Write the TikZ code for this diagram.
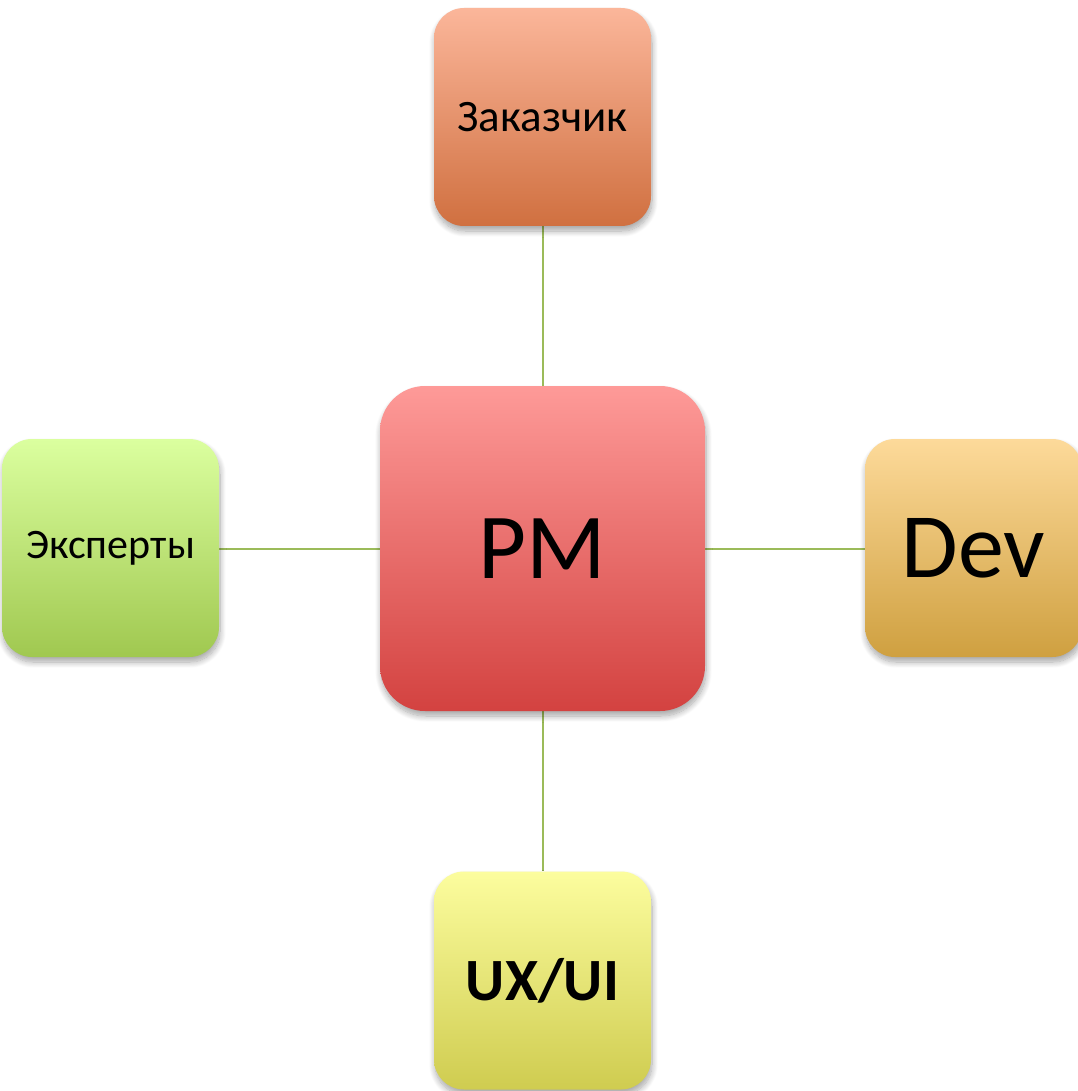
\documentclass[tikz,border=0pt]{standalone}
\usepackage{fontspec}
\setmainfont{Carlito}
\usetikzlibrary{shadows.blur,backgrounds}
\definecolor{zakT}{HTML}{FBB69A}\definecolor{zakB}{HTML}{D07040}
\definecolor{pmT}{HTML}{FE9A98}\definecolor{pmB}{HTML}{D34240}
\definecolor{expT}{HTML}{DBFF9F}\definecolor{expB}{HTML}{A0C850}
\definecolor{devT}{HTML}{FDDA9A}\definecolor{devB}{HTML}{CFA040}
\definecolor{uxT}{HTML}{FCFD9E}\definecolor{uxB}{HTML}{CFCC50}
\definecolor{linkc}{HTML}{9BBB59}
\tikzset{
  box/.style={rectangle, rounded corners=30pt, minimum width=217pt, minimum height=218pt,
    inner sep=0pt, blur shadow={shadow xshift=1pt, shadow yshift=-5pt, shadow blur radius=6pt, shadow blur steps=10, shadow opacity=35}},
  link/.style={draw=linkc, line width=2pt}
}
\begin{document}
\begin{tikzpicture}[x=1pt,y=1pt]
\useasboundingbox (0,0) rectangle (1077,-1091);
\node[box, minimum width=325pt, minimum height=325pt, rounded corners=45pt,
  top color=pmT, bottom color=pmB] (pm) at (542.5,-548.5) {\fontsize{93}{100}\selectfont PM};
\node[box, top color=zakT, bottom color=zakB] (zak) at (542.5,-117) {\fontsize{45}{50}\selectfont Заказчик};
\node[box, top color=expT, bottom color=expB] (exp) at (110.5,-548) {\fontsize{42}{48}\selectfont Эксперты};
\node[box, top color=devT, bottom color=devB] (dev) at (973.5,-548) {\fontsize{92}{100}\selectfont Dev};
\node[box, top color=uxT, bottom color=uxB] (ux) at (542.5,-980.5) {\fontsize{60}{66}\selectfont\bfseries UX/UI};
\begin{scope}[on background layer]
\draw[link] (pm.north) -- (zak.south);
\draw[link] (pm.south) -- (ux.north);
\draw[link] (pm.west) -- (pm.west -| exp.east);
\draw[link] (pm.east) -- (pm.east -| dev.west);
\end{scope}
\end{tikzpicture}
\end{document}
